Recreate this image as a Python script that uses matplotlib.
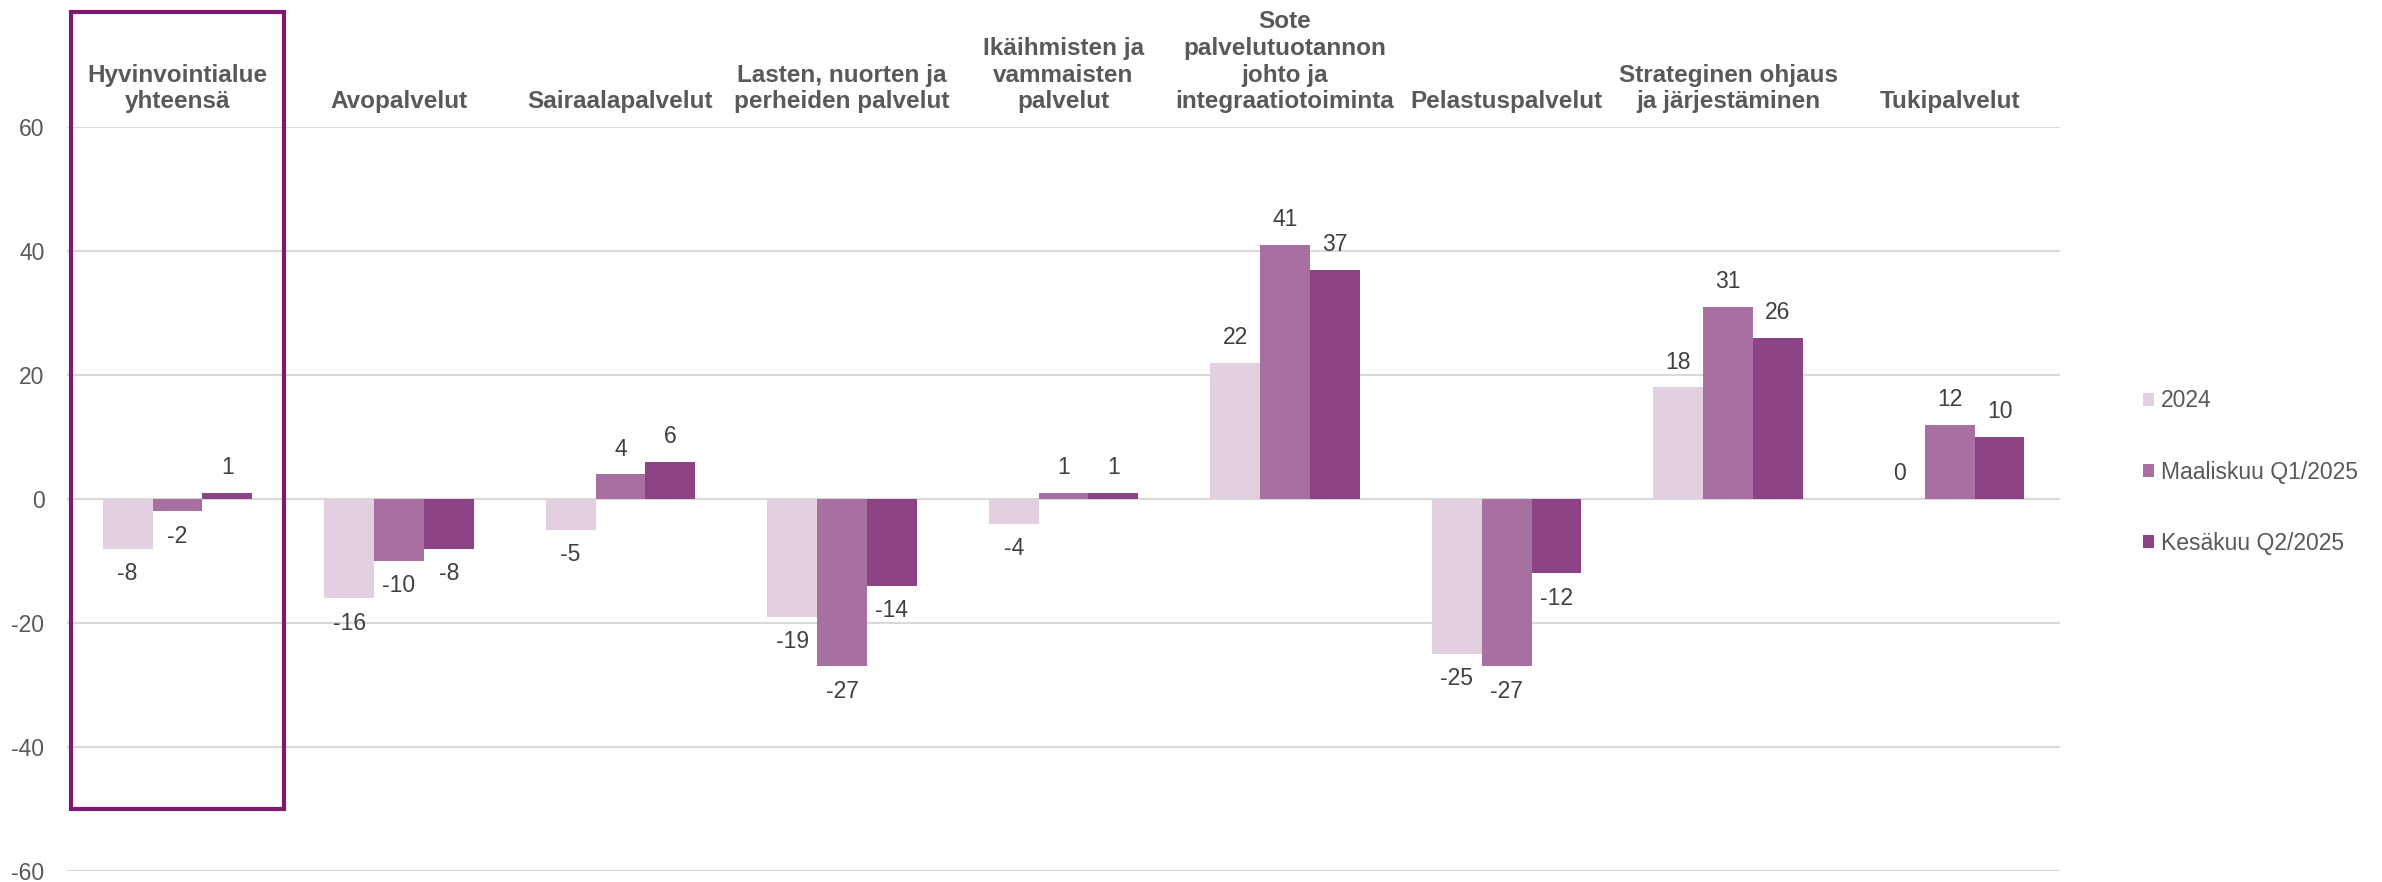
import numpy as np
from matplotlib import pyplot as plt
from matplotlib.patches import Rectangle, Patch

plt.rcParams['font.family'] = ['Liberation Sans', 'DejaVu Sans']
plt.rcParams['axes.unicode_minus'] = False

categories = [
    'Hyvinvointialue\nyhteensä',
    'Avopalvelut',
    'Sairaalapalvelut',
    'Lasten, nuorten ja\nperheiden palvelut',
    'Ikäihmisten ja\nvammaisten\npalvelut',
    'Sote\npalvelutuotannon\njohto ja\nintegraatiotoiminta',
    'Pelastuspalvelut',
    'Strateginen ohjaus\nja järjestäminen',
    'Tukipalvelut',
]
series_names = ['2024', 'Maaliskuu Q1/2025', 'Kesäkuu Q2/2025']
values_2024 = [-8, -16, -5, -19, -4, 22, -25, 18, 0]
values_q1 = [-2, -10, 4, -27, 1, 41, -27, 31, 12]
values_q2 = [1, -8, 6, -14, 1, 37, -12, 26, 10]
colors = ['#E2D0E0', '#A870A0', '#8C4383']
yticks = [-60, -40, -20, 0, 20, 40, 60]

fig = plt.figure(figsize=(23.82, 8.82), dpi=100)
ax = fig.add_axes([0.028, 0.0125, 0.837, 0.8435])

x = np.arange(len(categories))
width = 0.225
all_series = [values_2024, values_q1, values_q2]
for k, (vals, col) in enumerate(zip(all_series, colors)):
    pos = x + (k - 1) * width
    ax.bar(pos, vals, width, color=col, zorder=3)
    for xp, v in zip(pos, vals):
        off = 18 if v >= 0 else -18
        ax.annotate(f'{v}', xy=(xp, v), xytext=(0, off),
                    textcoords='offset points', ha='center', va='center',
                    fontsize=16.5, color='#404040', annotation_clip=False)

# category titles above the plot area
for i, cat in enumerate(categories):
    ax.annotate(cat, xy=(i, 60), xytext=(0, 10), textcoords='offset points',
                ha='center', va='bottom', fontsize=17.5, fontweight='bold',
                color='#595959', linespacing=1.2, annotation_clip=False)

# highlight box around the first group
box = Rectangle((-0.48, -50), 0.96, 128.5, fill=False,
                edgecolor='#7B1A6E', linewidth=3, clip_on=False, zorder=5)
ax.add_patch(box)

ax.set_xlim(-0.5, len(categories) - 0.5)
ax.set_ylim(-60, 60)
ax.set_yticks(yticks)
ax.set_yticklabels([str(t) for t in yticks])
ax.set_xticks([])
ax.tick_params(axis='y', length=0, pad=16, labelsize=16.5, labelcolor='#595959')
ax.grid(axis='y', color='#D9D9D9', linewidth=1.5, zorder=0)
for s in ax.spines.values():
    s.set_visible(False)

handles = [Patch(facecolor=c, label=n) for c, n in zip(colors, series_names)]
fig.legend(handles=handles, loc='center left',
           bbox_to_anchor=(2122 / 2382, 1 - 472 / 882), frameon=False,
           fontsize=16.5, labelcolor='#595959', handlelength=0.5,
           handleheight=0.5, handletextpad=0.3, labelspacing=2.1)

fig.savefig('out.png', dpi=100)
